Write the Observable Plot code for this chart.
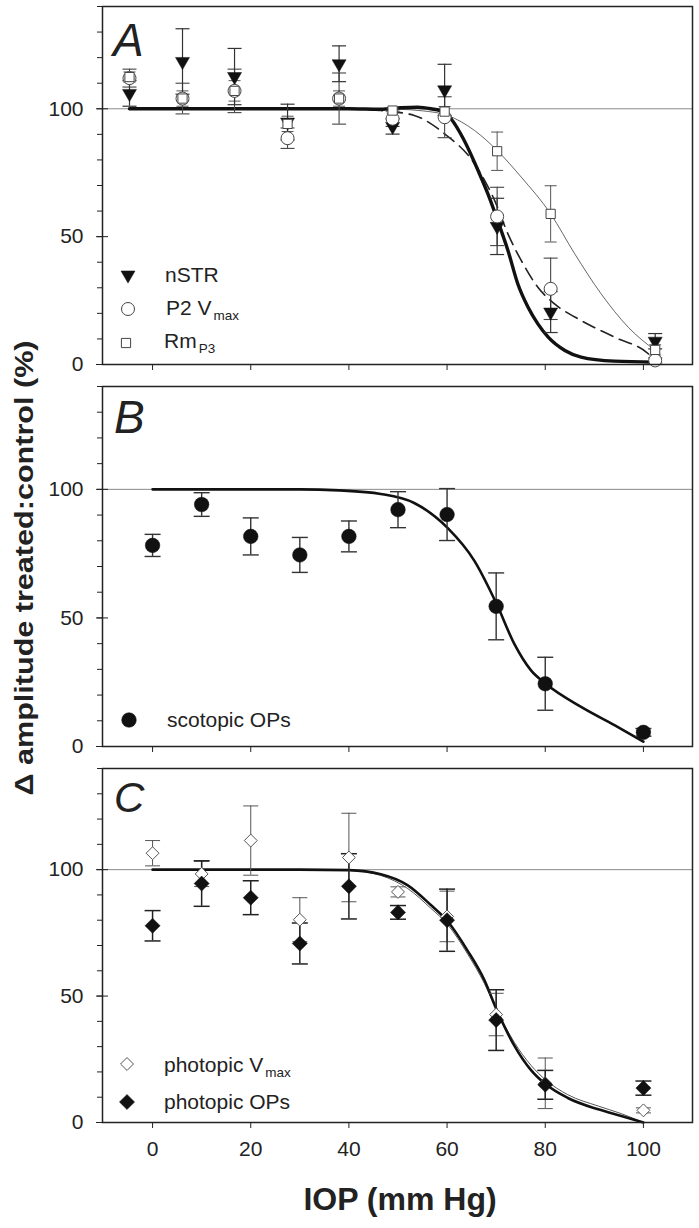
<!DOCTYPE html>
<html><head><meta charset="utf-8">
<script src="https://cdn.jsdelivr.net/npm/d3@7"></script>
<script src="https://cdn.jsdelivr.net/npm/@observablehq/plot@0.6"></script>
<style>
body{margin:0;background:#fff;}
#wrap{position:relative;width:699px;height:1228px;overflow:hidden;background:#fff;font-family:"Liberation Sans",Arial,sans-serif;}
#wrap > svg{position:absolute;left:0;}
</style></head><body><div id="wrap"></div>
<script>
// ---------- data ----------
const xTicks = [0, 20, 40, 60, 80, 100];
const yMajorTicks = [0, 50, 100];
const yMinorTicks = [0, 10, 20, 30, 40, 50, 60, 70, 80, 90, 100, 110, 120, 130, 140];

// Panel A
const xA = [-4.7, 6.1, 16.7, 27.5, 38.0, 48.9, 59.5, 70.2, 81.1, 102.4];
const nSTR = [106, 118.5, 112.6, 94.8, 117.6, 93.1, 107.4, 54.0, 20.5, 9.1];
const nSTRErr = [5, 12.8, 11, 7, 7, 3, 10, 11, 8, 3];
const p2Vmax = [112, 104, 107, 88.5, 104, 96.1, 96.7, 57.9, 29.6, 1.6];
const p2VmaxErr = [3.5, 6, 8.5, 4, 10, 3, 8, 11.4, 12, 1];
const rmP3 = [112.4, 104, 107, 94.1, 104, 99.3, 98.9, 83.4, 58.9, 5.7];
const rmP3Err = [2, 3, 4, 3, 3, 1, 2, 7.5, 11, 2];

const fitNSTRx = [-4.7, 40, 46.5, 50.6, 54.0, 56.7, 59.5, 60.8, 63.5, 66.3, 68.3, 70.3, 72.4, 74.4, 76.5, 78.5, 80.6, 84.0, 87.3, 94.1, 102.4];
const fitNSTRy = [100, 100, 99.8, 100.4, 100.6, 100.0, 98.7, 96.1, 87.6, 75.9, 66.8, 56.3, 44.6, 31.6, 22.4, 15.9, 10.7, 5.5, 2.9, 1.3, 0.9];
const fitP2x = [-4.7, 40, 46.5, 53.3, 59.5, 65.6, 69.7, 72.4, 75.1, 78.5, 81.9, 87.3, 94.1, 101, 102.4];
const fitP2y = [100, 100, 99.3, 97.4, 90.2, 78.5, 64.1, 51.1, 40.7, 30.2, 23.7, 17.2, 10.7, 4.2, 1.6];
const fitRmx = [-4.7, 40, 50, 55, 60.1, 65.6, 70.2, 75.1, 81.1, 86, 91.4, 96.9, 102.4];
const fitRmy = [100, 100, 99.8, 99.2, 97.4, 91.5, 83.7, 73.3, 58.9, 43.3, 27.6, 14.6, 5.5];

// Panel B
const xB = [0, 10, 20, 30, 40, 50, 60, 70, 80, 100];
const scotopicOPs = [78.2, 94.1, 81.7, 74.5, 81.7, 92.1, 90.2, 54.5, 24.4, 5.5];
const scotopicOPsErr = [4.3, 4.6, 7.2, 6.8, 6, 7, 10.1, 13, 10.3, 1.5];
const fitBx = [0, 30, 38, 46.5, 53.3, 60.1, 65.6, 70.1, 73.7, 77.1, 80.1, 87.3, 94.1, 100];
const fitBy = [100, 100, 99.6, 98.2, 94.7, 85.0, 72.1, 55.4, 39.9, 29.6, 24.4, 15.4, 8.3, 1.9];

// Panel C
const xC = [0, 10, 20, 30, 40, 50, 60, 70, 80, 100];
const photopicVmax = [106.5, 98.3, 111.5, 80.2, 104.8, 91.2, 81.5, 42.7, 15.5, 4.8];
const photopicVmaxErr = [5, 5, 13.7, 8.7, 17.5, 2, 10, 8.4, 10, 1];
const photopicOPs = [77.8, 94.5, 88.9, 70.8, 93.4, 83.1, 80.0, 40.5, 14.9, 13.6];
const photopicOPsErr = [6, 9, 6.7, 8.1, 12.9, 2.7, 12.3, 12, 5.7, 2.8];
const fitCx = [0, 30, 40, 46.5, 52.0, 56.7, 60.1, 64.2, 67.6, 70.1, 73.7, 77.1, 80.1, 84.6, 90.8, 95.5, 100];
const fitCOPy = [100, 100, 99.8, 98.2, 93.8, 86.0, 79.6, 67.9, 56.3, 44.6, 30.4, 20.7, 15.1, 9.7, 5.2, 2.6, 0];
const fitCVy = [100, 100, 99.7, 97.7, 92.5, 84.7, 78.3, 66.6, 55.0, 44.6, 31.7, 22.6, 16.8, 11, 6.5, 3.5, 0];

// ---------- helpers ----------
const pts = (xs, ys, es) => xs.map((x, i) => ({x, y: ys[i], e: es ? es[i] : 0}));
const capSymbol = {draw(ctx, size) { const h = Math.sqrt(size / Math.PI); ctx.moveTo(-h, 0); ctx.lineTo(h, 0); }};
const triDown = {draw(ctx, size) {
  const y = Math.sqrt(size / (3 * Math.sqrt(3)));
  ctx.moveTo(0, 2 * y); ctx.lineTo(-Math.sqrt(3) * y, -y); ctx.lineTo(Math.sqrt(3) * y, -y); ctx.closePath();
}};

function errMarks(data, stroke, strokeWidth, capR) {
  return [
    Plot.ruleX(data, {x: "x", y1: d => d.y - d.e, y2: d => d.y + d.e, stroke, strokeWidth}),
    Plot.dot(data, {x: "x", y: d => d.y + d.e, symbol: capSymbol, r: capR, stroke, strokeWidth, fill: "none"}),
    Plot.dot(data, {x: "x", y: d => d.y - d.e, symbol: capSymbol, r: capR, stroke, strokeWidth, fill: "none"})
  ];
}

const FONT = "Liberation Sans, Arial, Helvetica, sans-serif";
function axes(showXLabels) {
  return [
    Plot.axisY({ticks: yMinorTicks, tickSize: 5, tickFormat: () => "", stroke: "#222", label: null}),
    Plot.axisY({ticks: yMajorTicks, tickSize: 12, dx: 6, tickFormat: () => "", stroke: "#222", label: null}),
    Plot.axisY({ticks: yMajorTicks, tickSize: 0, tickPadding: 19, fontSize: 21, fill: "#222", label: null}),
    Plot.axisX({ticks: xTicks, tickSize: 6, tickPadding: 13, fontSize: 21, fill: "#222", stroke: "#222",
      tickFormat: showXLabels ? (d => String(d)) : (() => ""), label: null}),
    Plot.frame({stroke: "#222", strokeWidth: 1.5})
  ];
}

function base(height, marginBottom, marks) {
  return Plot.plot({
    width: 699, height, marginLeft: 102, marginRight: 7, marginTop: 6, marginBottom,
    x: {domain: [-10.2, 110]},
    y: {domain: [0, 140]},
    style: {fontFamily: FONT, fontSize: "21px", color: "#222", background: "transparent", overflow: "visible"},
    marks
  });
}

function addText(svg, x, y, parts, opts = {}) {
  const t = d3.select(svg).append("text")
    .attr("x", x).attr("y", y)
    .attr("font-family", FONT).attr("font-size", opts.size || 21)
    .attr("fill", "#222")
    .attr("text-anchor", opts.anchor || "start");
  if (opts.italic) t.attr("font-style", "italic");
  if (opts.weight) t.attr("font-weight", opts.weight);
  parts.forEach(p => {
    const s = t.append("tspan").text(p.t);
    if (p.sub) s.attr("font-size", 13.5).attr("dy", 5).attr("dx", 2);
  });
  return t;
}
function addSym(svg, x, y, type, size, fill, stroke, sw) {
  d3.select(svg).append("path")
    .attr("transform", `translate(${x},${y})`)
    .attr("d", d3.symbol().type(type).size(size)())
    .attr("fill", fill).attr("stroke", stroke).attr("stroke-width", sw);
}

const wrap = document.getElementById("wrap");

// ---------- Panel A ----------
const dNSTR = pts(xA, nSTR, nSTRErr), dP2 = pts(xA, p2Vmax, p2VmaxErr), dRm = pts(xA, rmP3, rmP3Err);
const triR = 5.2, circR = 6.5, sqR = 5.2;
const svgA = base(380, 16, [
  Plot.ruleY([100], {stroke: "#8a8a8a", strokeWidth: 1}),
  Plot.line(pts(fitRmx, fitRmy), {x: "x", y: "y", stroke: "#555", strokeWidth: 0.9, curve: "monotone-x"}),
  Plot.line(pts(fitP2x, fitP2y), {x: "x", y: "y", stroke: "#222", strokeWidth: 1.6, strokeDasharray: "13,7", curve: "monotone-x"}),
  Plot.line(pts(fitNSTRx, fitNSTRy), {x: "x", y: "y", stroke: "#111", strokeWidth: 3.4, curve: "monotone-x"}),
  ...errMarks(dRm, "#555", 1, 6),
  ...errMarks(dP2, "#444", 1.1, 7),
  ...errMarks(dNSTR, "#333", 1.2, 7),
  Plot.dot(dNSTR, {x: "x", y: "y", symbol: triDown, r: triR, fill: "#111", stroke: "#111", strokeWidth: 0.5}),
  Plot.dot(dP2, {x: "x", y: "y", symbol: "circle", r: circR, fill: "white", stroke: "#444", strokeWidth: 1}),
  Plot.dot(dRm, {x: "x", y: "y", symbol: "square", r: sqR, fill: "white", stroke: "#444", strokeWidth: 1}),
  ...axes(false)
]);
svgA.style.top = "0px";
wrap.appendChild(svgA);
addText(svgA, 113, 56, [{t: "A"}], {size: 46, italic: true});
addSym(svgA, 128, 275, triDown, Math.PI * triR * triR, "#111", "#111", 0.5);
addSym(svgA, 128, 309, d3.symbolCircle, Math.PI * circR * circR, "white", "#444", 1);
addSym(svgA, 126, 343, d3.symbolSquare, Math.PI * sqR * sqR, "white", "#444", 1);
addText(svgA, 165, 282, [{t: "nSTR"}]);
addText(svgA, 166, 315, [{t: "P2 V"}, {t: "max", sub: true}]);
addText(svgA, 164, 348, [{t: "Rm"}, {t: "P3", sub: true}]);

// ---------- Panel B ----------
const dScot = pts(xB, scotopicOPs, scotopicOPsErr);
const svgB = base(382, 16, [
  Plot.ruleY([100], {stroke: "#8a8a8a", strokeWidth: 1}),
  Plot.line(pts(fitBx, fitBy), {x: "x", y: "y", stroke: "#111", strokeWidth: 2.6, curve: "monotone-x"}),
  ...errMarks(dScot, "#333", 1.4, 8),
  Plot.dot(dScot, {x: "x", y: "y", symbol: "circle", r: 7.3, fill: "#111", stroke: "#111", strokeWidth: 0.5}),
  ...axes(false)
]);
svgB.style.top = "380px";
wrap.appendChild(svgB);
addText(svgB, 114, 53, [{t: "B"}], {size: 46, italic: true});
addSym(svgB, 129, 340, d3.symbolCircle, Math.PI * 7.3 * 7.3, "#111", "#111", 0.5);
addText(svgB, 167, 347, [{t: "scotopic OPs"}]);

// ---------- Panel C ----------
const dV = pts(xC, photopicVmax, photopicVmaxErr), dOP = pts(xC, photopicOPs, photopicOPsErr);
const dmOpen = 5.8, dmFill = 6.8;
const svgC = base(466, 106, [
  Plot.ruleY([100], {stroke: "#8a8a8a", strokeWidth: 1}),
  Plot.line(pts(fitCx, fitCVy), {x: "x", y: "y", stroke: "#555", strokeWidth: 1, curve: "monotone-x"}),
  Plot.line(pts(fitCx, fitCOPy), {x: "x", y: "y", stroke: "#111", strokeWidth: 2.6, curve: "monotone-x"}),
  ...errMarks(dV, "#555", 1, 7.5),
  ...errMarks(dOP, "#222", 1.5, 8),
  Plot.dot(dV, {x: "x", y: "y", symbol: "diamond2", r: dmOpen, fill: "white", stroke: "#555", strokeWidth: 1}),
  Plot.dot(dOP, {x: "x", y: "y", symbol: "diamond2", r: dmFill, fill: "#111", stroke: "#111", strokeWidth: 0.5}),
  ...axes(true)
]);
svgC.style.top = "762px";
wrap.appendChild(svgC);
addText(svgC, 114, 50, [{t: "C"}], {size: 42, italic: true});
addSym(svgC, 127, 302, d3.symbolDiamond2, Math.PI * dmOpen * dmOpen, "white", "#555", 1);
addSym(svgC, 127, 340, d3.symbolDiamond2, Math.PI * dmFill * dmFill, "#111", "#111", 0.5);
addText(svgC, 164, 310, [{t: "photopic V"}, {t: "max", sub: true}]);
addText(svgC, 164, 347, [{t: "photopic OPs"}]);
addText(svgC, 400, 448, [{t: "IOP (mm Hg)"}], {size: 32, weight: "bold", anchor: "middle"});

// ---------- shared y label ----------
const lab = d3.create("svg").attr("width", 60).attr("height", 1228).style("top", "0px");
lab.append("text")
  .attr("transform", "translate(33,568) rotate(-90)")
  .attr("text-anchor", "middle")
  .attr("font-family", FONT).attr("font-weight", "bold").attr("font-size", 26)
  .attr("fill", "#222")
  .attr("textLength", 455).attr("lengthAdjust", "spacingAndGlyphs")
  .text("Δ amplitude treated:control (%)");
wrap.appendChild(lab.node());
</script></body></html>
